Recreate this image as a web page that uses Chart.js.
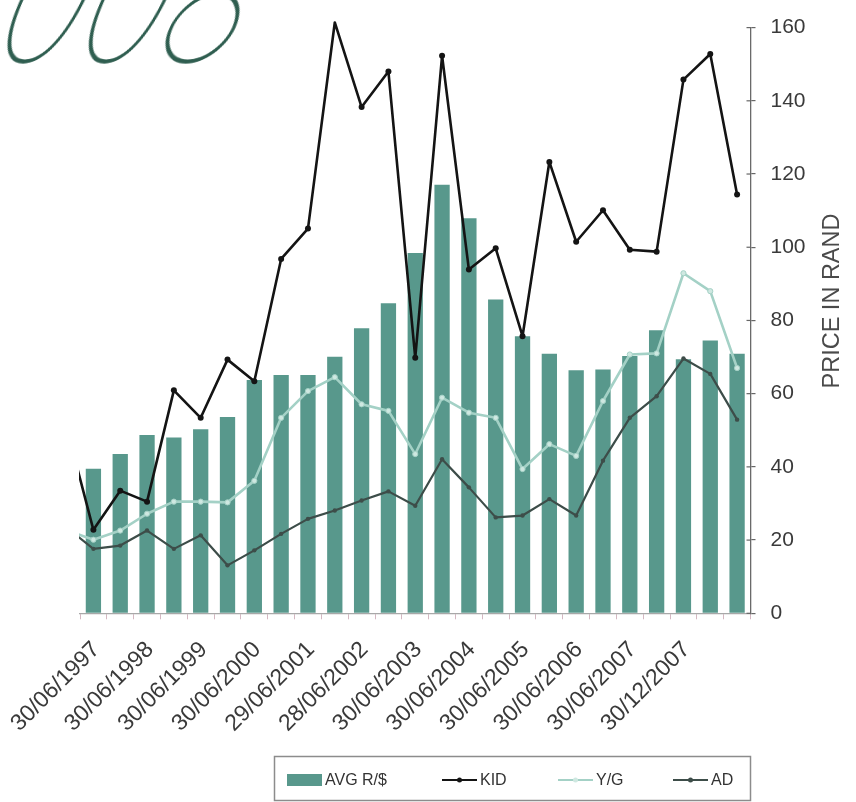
<!DOCTYPE html>
<html><head><meta charset="utf-8">
<style>
html,body{margin:0;padding:0;background:#fff;}
#wrap{position:relative;width:856px;height:802px;overflow:hidden;background:#fff;}
#deco{position:absolute;left:-31px;top:-95px;font-family:Inter,'DejaVu Sans',sans-serif;font-weight:100;font-size:182px;line-height:1;color:#2f5e50;transform:skewX(-25deg) scaleX(0.8);transform-origin:0 100%;white-space:nowrap;letter-spacing:-6px;}
canvas{position:absolute;left:0;top:0;}
</style>
<script src="https://cdn.jsdelivr.net/npm/chart.js@4.4.1/dist/chart.umd.min.js"></script>
</head><body>
<div id="wrap"><canvas id="c" width="856" height="802"></canvas><div id="deco">008</div></div>
<script>
// Category 0 lies just left of the visible plot (the reference is cropped there);
// only the line stubs coming from it are visible.
const categories = ['',
  '30/06/1997','', '30/06/1998','', '30/06/1999','', '30/06/2000','',
  '29/06/2001','', '28/06/2002','', '30/06/2003','', '30/06/2004','',
  '30/06/2005','', '30/06/2006','', '30/06/2007','', '30/12/2007','', ''];
const avgRand = [null, 39.5, 43.5, 48.7, 48.0, 50.3, 53.6, 63.7, 65.1, 65.1, 70.1, 77.9, 84.7,
  98.4, 117.1, 107.9, 85.7, 75.7, 70.9, 66.4, 66.6, 70.3, 77.3, 69.4, 74.5, 70.9];
const kid = [50.9, 22.8, 33.5, 30.5, 60.9, 53.4, 69.3, 63.4, 96.8, 105.1, 161.4, 138.3, 148.0,
  69.8, 152.3, 93.9, 99.7, 75.7, 123.3, 101.5, 110.1, 99.3, 98.8, 145.8, 152.8, 114.4];
const yg = [22.7, 20.1, 22.6, 27.2, 30.5, 30.5, 30.3, 36.2, 53.4, 60.7, 64.5, 57.1, 55.3,
  43.5, 58.9, 54.8, 53.4, 39.4, 46.2, 43.0, 58.0, 70.7, 71.0, 92.9, 88.0, 67.0];
const ad = [23.4, 17.6, 18.5, 22.6, 17.6, 21.3, 13.1, 17.2, 21.7, 25.8, 28.1, 30.8, 33.3,
  29.4, 42.1, 34.4, 26.2, 26.7, 31.2, 26.7, 41.7, 53.4, 59.3, 69.6, 65.4, 52.9];
const seriesNames = ['AVG R/$', 'KID', 'Y/G', 'AD'];
const yAxisTitle = 'PRICE IN RAND';

const FONT = "'Liberation Sans', Arial, Helvetica, sans-serif";
Chart.defaults.font.family = FONT;

const COL_BAR = '#58988c', COL_KID = '#141414', COL_YG = '#a4d1c6', COL_AD = '#3d4d49';

const yTickCross = {
  id: 'yTickCross',
  afterDraw(chart) {
    const s = chart.scales.y, ctx = chart.ctx;
    ctx.save();
    ctx.strokeStyle = '#666'; ctx.lineWidth = 1.2;
    s.ticks.forEach((t, i) => {
      const py = s.getPixelForTick(i);
      ctx.beginPath(); ctx.moveTo(s.left - 4, py); ctx.lineTo(s.left, py); ctx.stroke();
    });
    ctx.restore();
  }
};

const axisTitle = {
  id: 'axisTitle',
  afterDraw(chart) {
    const ctx = chart.ctx;
    ctx.save();
    ctx.translate(833, 301);
    ctx.rotate(-Math.PI / 2);
    ctx.font = '23.5px ' + FONT;
    ctx.fillStyle = '#4a4a4a';
    ctx.textAlign = 'center'; ctx.textBaseline = 'middle';
    ctx.fillText(yAxisTitle, 0, 0);
    ctx.restore();
  }
};

const boxLegend = {
  id: 'boxLegend',
  afterDraw(chart) {
    const ctx = chart.ctx;
    ctx.save();
    ctx.strokeStyle = '#8c8c8c'; ctx.lineWidth = 1.5;
    ctx.strokeRect(274.5, 756.5, 476, 44);
    const xs = [287, 442, 558, 673];
    const cy = 780;
    ctx.font = '16px ' + FONT;
    ctx.textBaseline = 'middle'; ctx.textAlign = 'left';
    chart.data.datasets.forEach((ds, i) => {
      const x = xs[i];
      if (ds.type === 'bar') {
        ctx.fillStyle = ds.backgroundColor;
        ctx.fillRect(x, cy - 6, 35, 12);
      } else {
        ctx.strokeStyle = ds.borderColor; ctx.lineWidth = 2;
        ctx.beginPath(); ctx.moveTo(x, cy); ctx.lineTo(x + 35, cy); ctx.stroke();
        ctx.fillStyle = ds.pointBackgroundColor;
        ctx.beginPath(); ctx.arc(x + 17.5, cy, 2.5, 0, Math.PI * 2); ctx.fill();
      }
      ctx.fillStyle = '#333';
      ctx.fillText(ds.label, x + 38, cy + 1);
    });
    ctx.restore();
  }
};

new Chart(document.getElementById('c'), {
  type: 'bar',
  data: {
    labels: categories,
    datasets: [
      { type: 'bar', label: seriesNames[0], data: avgRand, backgroundColor: COL_BAR,
        barPercentage: 0.57, categoryPercentage: 1, order: 4 },
      { type: 'line', label: seriesNames[1], data: kid, borderColor: COL_KID, borderWidth: 2.6,
        borderJoinStyle: 'round', borderCapStyle: 'round',
        pointRadius: 3, pointBackgroundColor: COL_KID, pointBorderWidth: 0, tension: 0, order: 1,
        clip: {left: 1, right: 10, top: false, bottom: 5} },
      { type: 'line', label: seriesNames[2], data: yg, borderColor: COL_YG, borderWidth: 2.6,
        borderJoinStyle: 'round',
        pointRadius: 2.6, pointBackgroundColor: '#cfe8e1', pointBorderColor: COL_YG, pointBorderWidth: 1,
        tension: 0, order: 2, clip: {left: 1, right: 10, top: 5, bottom: 5} },
      { type: 'line', label: seriesNames[3], data: ad, borderColor: COL_AD, borderWidth: 2.2,
        borderJoinStyle: 'round',
        pointRadius: 2.2, pointBackgroundColor: COL_AD, pointBorderWidth: 0, tension: 0, order: 3,
        clip: {left: 1, right: 10, top: 5, bottom: 5} }
    ]
  },
  options: {
    responsive: false,
    animation: false,
    devicePixelRatio: 1,
    layout: { padding: { left: 80, top: 25, right: 0, bottom: 0 } },
    plugins: { legend: { display: false }, tooltip: { enabled: false } },
    scales: {
      x: {
        min: 1,
        offset: true,
        grid: { offset: true, drawOnChartArea: false, drawTicks: true, tickLength: 6, color: '#d4b8c2', lineWidth: 1 },
        border: { display: true, color: '#a8a8a8', width: 1.2 },
        ticks: { autoSkip: false, maxRotation: 45, minRotation: 45, labelOffset: 3, padding: 17,
          color: '#3a3a3a', font: { size: 23 } },
        afterFit(s) { s.height = 802 - 613.3; s.paddingLeft = 0; s.paddingRight = 0; }
      },
      y: {
        position: 'right',
        min: 0, max: 160,
        grid: { drawOnChartArea: false, drawTicks: true, tickLength: 5, color: '#666', lineWidth: 1.2 },
        border: { display: true, color: '#6a6a6a', width: 1.3 },
        ticks: { stepSize: 20, padding: 15, color: '#3a3a3a', font: { size: 21 } },
        afterFit(s) { s.width = 856 - 750.5; }
      }
    }
  },
  plugins: [yTickCross, axisTitle, boxLegend]
});
</script>
</body></html>
